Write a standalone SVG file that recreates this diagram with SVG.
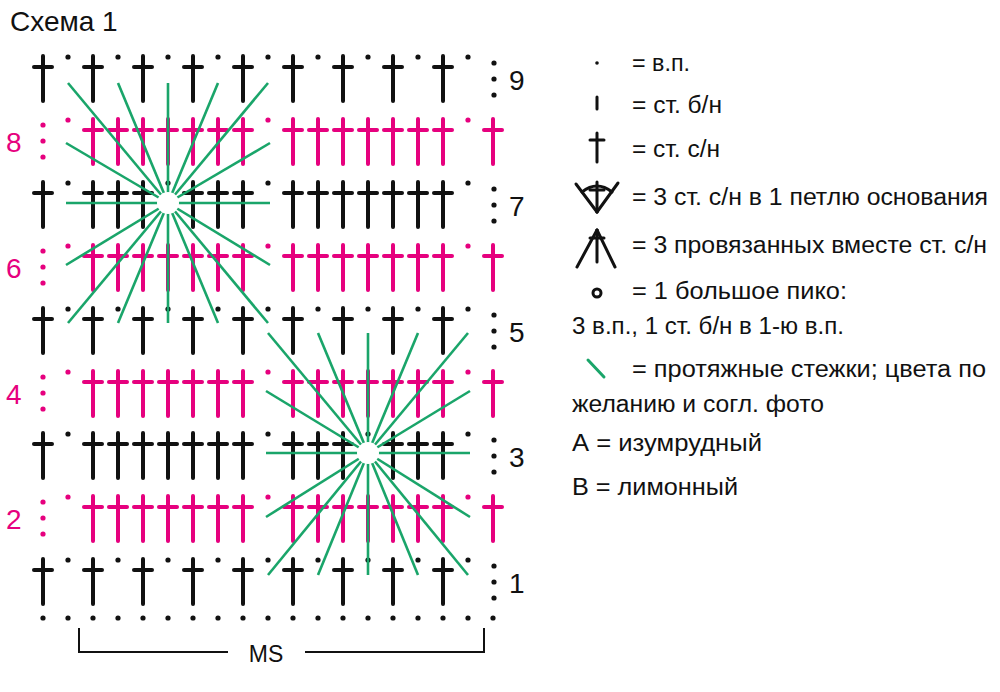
<svg xmlns="http://www.w3.org/2000/svg" xmlns:xlink="http://www.w3.org/1999/xlink" width="1000" height="692" viewBox="0 0 1000 692">
<style>
text{font-family:"Liberation Sans",Arial,sans-serif;}
.k{stroke:#111;fill:#111}
.p{stroke:#e6007e;fill:#e6007e}
.g line{stroke:#1aa56a;stroke-width:2.6}
.lg{font-size:23px;fill:#111}
.num{font-size:28px}
</style>
<defs>
<g id="c" stroke-width="4" stroke-linecap="round"><line x1="0" y1="1" x2="0" y2="46"/><line x1="-9" y1="12" x2="9" y2="12"/></g>
<circle id="d" r="2.6" stroke="none"/>
<g id="col"><circle cx="0" cy="0" r="2.6" stroke="none"/><circle cx="0" cy="16" r="2.6" stroke="none"/><circle cx="0" cy="32" r="2.6" stroke="none"/></g>
</defs>
<rect width="1000" height="692" fill="#fff"/>
<text x="10" y="31" font-size="28" fill="#111">Схема 1</text>

<!-- row 9 (T=55) -->
<g id="row9" class="k">
<use href="#c" x="43" y="55"/><use href="#c" x="93" y="55"/><use href="#c" x="143" y="55"/><use href="#c" x="193" y="55"/><use href="#c" x="243" y="55"/><use href="#c" x="293" y="55"/><use href="#c" x="343" y="55"/><use href="#c" x="393" y="55"/><use href="#c" x="443" y="55"/>
<use href="#d" x="68" y="57"/><use href="#d" x="118" y="57"/><use href="#d" x="168" y="57"/><use href="#d" x="218" y="57"/><use href="#d" x="268" y="57"/><use href="#d" x="318" y="57"/><use href="#d" x="368" y="57"/><use href="#d" x="418" y="57"/><use href="#d" x="468" y="57"/>
<use href="#col" x="494" y="63"/><text x="509" y="90" class="num" stroke="none">9</text>
</g>
<!-- row 8 (T=118) -->
<g id="row8" class="p">
<use href="#col" x="43" y="125"/><text x="6" y="152" class="num" stroke="none">8</text>
<use href="#d" x="68" y="120"/><use href="#c" x="93" y="118"/><use href="#c" x="118" y="118"/><use href="#c" x="143" y="118"/><use href="#c" x="168" y="118"/><use href="#c" x="193" y="118"/><use href="#c" x="218" y="118"/><use href="#c" x="243" y="118"/>
<use href="#d" x="268" y="120"/><use href="#c" x="293" y="118"/><use href="#c" x="318" y="118"/><use href="#c" x="343" y="118"/><use href="#c" x="368" y="118"/><use href="#c" x="393" y="118"/><use href="#c" x="418" y="118"/><use href="#c" x="443" y="118"/>
<use href="#d" x="468" y="120"/><use href="#c" x="493" y="118"/>
</g>
<!-- row 7 (T=181) -->
<g id="row7" class="k">
<use href="#c" x="43" y="181"/><use href="#d" x="68" y="183"/><use href="#c" x="93" y="181"/><use href="#c" x="118" y="181"/><use href="#c" x="143" y="181"/><use href="#d" x="168" y="183"/><use href="#c" x="193" y="181"/><use href="#c" x="218" y="181"/><use href="#c" x="243" y="181"/>
<use href="#d" x="268" y="183"/><use href="#c" x="293" y="181"/><use href="#c" x="318" y="181"/><use href="#c" x="343" y="181"/><use href="#c" x="368" y="181"/><use href="#c" x="393" y="181"/><use href="#c" x="418" y="181"/><use href="#c" x="443" y="181"/>
<use href="#d" x="468" y="183"/>
<use href="#col" x="494" y="189"/><text x="509" y="216" class="num" stroke="none">7</text>
</g>
<!-- row 6 (T=244) -->
<g id="row6" class="p">
<use href="#col" x="43" y="251"/><text x="6" y="278" class="num" stroke="none">6</text>
<use href="#d" x="68" y="246"/><use href="#c" x="93" y="244"/><use href="#c" x="118" y="244"/><use href="#c" x="143" y="244"/><use href="#c" x="168" y="244"/><use href="#c" x="193" y="244"/><use href="#c" x="218" y="244"/><use href="#c" x="243" y="244"/>
<use href="#d" x="268" y="246"/><use href="#c" x="293" y="244"/><use href="#c" x="318" y="244"/><use href="#c" x="343" y="244"/><use href="#c" x="368" y="244"/><use href="#c" x="393" y="244"/><use href="#c" x="418" y="244"/><use href="#c" x="443" y="244"/>
<use href="#d" x="468" y="246"/><use href="#c" x="493" y="244"/>
</g>
<!-- row 5 (T=307) -->
<g id="row5" class="k">
<use href="#c" x="43" y="307"/><use href="#c" x="93" y="307"/><use href="#c" x="143" y="307"/><use href="#c" x="193" y="307"/><use href="#c" x="243" y="307"/><use href="#c" x="293" y="307"/><use href="#c" x="343" y="307"/><use href="#c" x="393" y="307"/><use href="#c" x="443" y="307"/>
<use href="#d" x="68" y="309"/><use href="#d" x="118" y="309"/><use href="#d" x="168" y="309"/><use href="#d" x="218" y="309"/><use href="#d" x="268" y="309"/><use href="#d" x="318" y="309"/><use href="#d" x="368" y="309"/><use href="#d" x="418" y="309"/><use href="#d" x="468" y="309"/>
<use href="#col" x="494" y="315"/><text x="509" y="342" class="num" stroke="none">5</text>
</g>
<!-- row 4 (T=370) -->
<g id="row4" class="p">
<use href="#col" x="43" y="377"/><text x="6" y="404" class="num" stroke="none">4</text>
<use href="#d" x="68" y="372"/><use href="#c" x="93" y="370"/><use href="#c" x="118" y="370"/><use href="#c" x="143" y="370"/><use href="#c" x="168" y="370"/><use href="#c" x="193" y="370"/><use href="#c" x="218" y="370"/><use href="#c" x="243" y="370"/>
<use href="#d" x="268" y="372"/><use href="#c" x="293" y="370"/><use href="#c" x="318" y="370"/><use href="#c" x="343" y="370"/><use href="#c" x="368" y="370"/><use href="#c" x="393" y="370"/><use href="#c" x="418" y="370"/><use href="#c" x="443" y="370"/>
<use href="#d" x="468" y="372"/><use href="#c" x="493" y="370"/>
</g>
<!-- row 3 (T=432) -->
<g id="row3" class="k">
<use href="#c" x="43" y="432"/><use href="#d" x="68" y="434"/><use href="#c" x="93" y="432"/><use href="#c" x="118" y="432"/><use href="#c" x="143" y="432"/><use href="#c" x="168" y="432"/><use href="#c" x="193" y="432"/><use href="#c" x="218" y="432"/><use href="#c" x="243" y="432"/>
<use href="#d" x="268" y="434"/><use href="#c" x="293" y="432"/><use href="#c" x="318" y="432"/><use href="#c" x="343" y="432"/><use href="#d" x="368" y="434"/><use href="#c" x="393" y="432"/><use href="#c" x="418" y="432"/><use href="#c" x="443" y="432"/>
<use href="#d" x="468" y="434"/>
<use href="#col" x="494" y="440"/><text x="509" y="467" class="num" stroke="none">3</text>
</g>
<!-- row 2 (T=495) -->
<g id="row2" class="p">
<use href="#col" x="43" y="502"/><text x="6" y="529" class="num" stroke="none">2</text>
<use href="#d" x="68" y="497"/><use href="#c" x="93" y="495"/><use href="#c" x="118" y="495"/><use href="#c" x="143" y="495"/><use href="#c" x="168" y="495"/><use href="#c" x="193" y="495"/><use href="#c" x="218" y="495"/><use href="#c" x="243" y="495"/>
<use href="#d" x="268" y="497"/><use href="#c" x="293" y="495"/><use href="#c" x="318" y="495"/><use href="#c" x="343" y="495"/><use href="#c" x="368" y="495"/><use href="#c" x="393" y="495"/><use href="#c" x="418" y="495"/><use href="#c" x="443" y="495"/>
<use href="#d" x="468" y="497"/><use href="#c" x="493" y="495"/>
</g>
<!-- row 1 (T=558) -->
<g id="row1" class="k">
<use href="#c" x="43" y="558"/><use href="#c" x="93" y="558"/><use href="#c" x="143" y="558"/><use href="#c" x="193" y="558"/><use href="#c" x="243" y="558"/><use href="#c" x="293" y="558"/><use href="#c" x="343" y="558"/><use href="#c" x="393" y="558"/><use href="#c" x="443" y="558"/>
<use href="#d" x="68" y="560"/><use href="#d" x="118" y="560"/><use href="#d" x="168" y="560"/><use href="#d" x="218" y="560"/><use href="#d" x="268" y="560"/><use href="#d" x="318" y="560"/><use href="#d" x="368" y="560"/><use href="#d" x="418" y="560"/><use href="#d" x="468" y="560"/>
<use href="#col" x="494" y="566"/><text x="509" y="593" class="num" stroke="none">1</text>
</g>
<!-- foundation -->
<g id="foundation" class="k">
<use href="#d" x="43" y="618"/><use href="#d" x="68" y="618"/><use href="#d" x="93" y="618"/><use href="#d" x="118" y="618"/><use href="#d" x="143" y="618"/><use href="#d" x="168" y="618"/><use href="#d" x="193" y="618"/><use href="#d" x="218" y="618"/><use href="#d" x="243" y="618"/><use href="#d" x="268" y="618"/><use href="#d" x="293" y="618"/><use href="#d" x="318" y="618"/><use href="#d" x="343" y="618"/><use href="#d" x="368" y="618"/><use href="#d" x="393" y="618"/><use href="#d" x="418" y="618"/><use href="#d" x="443" y="618"/><use href="#d" x="468" y="618"/><use href="#d" x="493" y="618"/>
</g>

<!-- connectors: long stitches -->
<g id="connectors">
<g class="g" id="motif1">
<line x1="168" y1="203" x2="68" y2="83"/><line x1="168" y1="203" x2="118" y2="83"/><line x1="168" y1="203" x2="168" y2="83"/><line x1="168" y1="203" x2="218" y2="83"/><line x1="168" y1="203" x2="268" y2="83"/>
<line x1="168" y1="203" x2="68" y2="323"/><line x1="168" y1="203" x2="118" y2="323"/><line x1="168" y1="203" x2="168" y2="323"/><line x1="168" y1="203" x2="218" y2="323"/><line x1="168" y1="203" x2="268" y2="323"/>
<line x1="168" y1="203" x2="66" y2="143"/><line x1="168" y1="203" x2="66" y2="203"/><line x1="168" y1="203" x2="66" y2="265"/>
<line x1="168" y1="203" x2="270" y2="143"/><line x1="168" y1="203" x2="270" y2="203"/><line x1="168" y1="203" x2="270" y2="265"/>
<circle cx="168" cy="203" r="11" fill="#fff"/>
</g>
<g class="g" id="motif2">
<line x1="368" y1="453" x2="268" y2="333"/><line x1="368" y1="453" x2="318" y2="333"/><line x1="368" y1="453" x2="368" y2="333"/><line x1="368" y1="453" x2="418" y2="333"/><line x1="368" y1="453" x2="468" y2="333"/>
<line x1="368" y1="453" x2="268" y2="575"/><line x1="368" y1="453" x2="318" y2="575"/><line x1="368" y1="453" x2="368" y2="575"/><line x1="368" y1="453" x2="418" y2="575"/><line x1="368" y1="453" x2="468" y2="575"/>
<line x1="368" y1="453" x2="266" y2="391"/><line x1="368" y1="453" x2="266" y2="453"/><line x1="368" y1="453" x2="266" y2="517"/>
<line x1="368" y1="453" x2="470" y2="391"/><line x1="368" y1="453" x2="470" y2="453"/><line x1="368" y1="453" x2="470" y2="517"/>
<circle cx="368" cy="453" r="11" fill="#fff"/>
</g>
</g>

<!-- MS bracket -->
<g id="ms" fill="none" stroke="#111" stroke-width="2">
<polyline points="79,628 79,652 228,652"/>
<polyline points="305,652 484,652 484,628"/>
</g>
<text x="266" y="662" font-size="23" fill="#111" text-anchor="middle">MS</text>

<!-- legend -->
<g id="legend" stroke="#111" stroke-width="3" fill="none" stroke-linecap="round">
<circle cx="597" cy="63" r="1.8" fill="#111" stroke="none"/>
<line x1="597" y1="97" x2="597" y2="109"/>
<line x1="597" y1="133" x2="597" y2="162"/><line x1="590" y1="140" x2="604" y2="140"/>
<line x1="597" y1="182" x2="597" y2="212"/><line x1="590" y1="190" x2="604" y2="190"/>
<line x1="576" y1="184" x2="597" y2="212"/><line x1="618" y1="183" x2="597" y2="212"/>
<path d="M582,192 Q597,180 612,192"/>
<line x1="597" y1="230" x2="597" y2="262"/><line x1="590" y1="238" x2="604" y2="238"/>
<line x1="597" y1="230" x2="577" y2="267"/><line x1="597" y1="230" x2="615" y2="267"/>
<circle cx="597" cy="293" r="4"/>
<line x1="588" y1="360" x2="604" y2="377" stroke="#1aa56a"/>
</g>
<g class="lg">
<text x="632" y="71" textLength="58" lengthAdjust="spacingAndGlyphs">= в.п.</text>
<text x="632" y="113" textLength="90" lengthAdjust="spacingAndGlyphs">= ст. б/н</text>
<text x="632" y="157" textLength="88" lengthAdjust="spacingAndGlyphs">= ст. с/н</text>
<text x="632" y="205" textLength="356" lengthAdjust="spacingAndGlyphs">= 3 ст. с/н в 1 петлю основания</text>
<text x="632" y="253" textLength="355" lengthAdjust="spacingAndGlyphs">= 3 провязанных вместе ст. с/н</text>
<text x="632" y="299" textLength="215" lengthAdjust="spacingAndGlyphs">= 1 большое пико:</text>
<text x="572" y="334" textLength="272" lengthAdjust="spacingAndGlyphs">3 в.п., 1 ст. б/н в 1-ю в.п.</text>
<text x="632" y="377" textLength="354" lengthAdjust="spacingAndGlyphs">= протяжные стежки; цвета по</text>
<text x="572" y="412" textLength="252" lengthAdjust="spacingAndGlyphs">желанию и согл. фото</text>
<text x="572" y="451" textLength="190" lengthAdjust="spacingAndGlyphs">А = изумрудный</text>
<text x="572" y="495" textLength="166" lengthAdjust="spacingAndGlyphs">В = лимонный</text>
</g>
</svg>
